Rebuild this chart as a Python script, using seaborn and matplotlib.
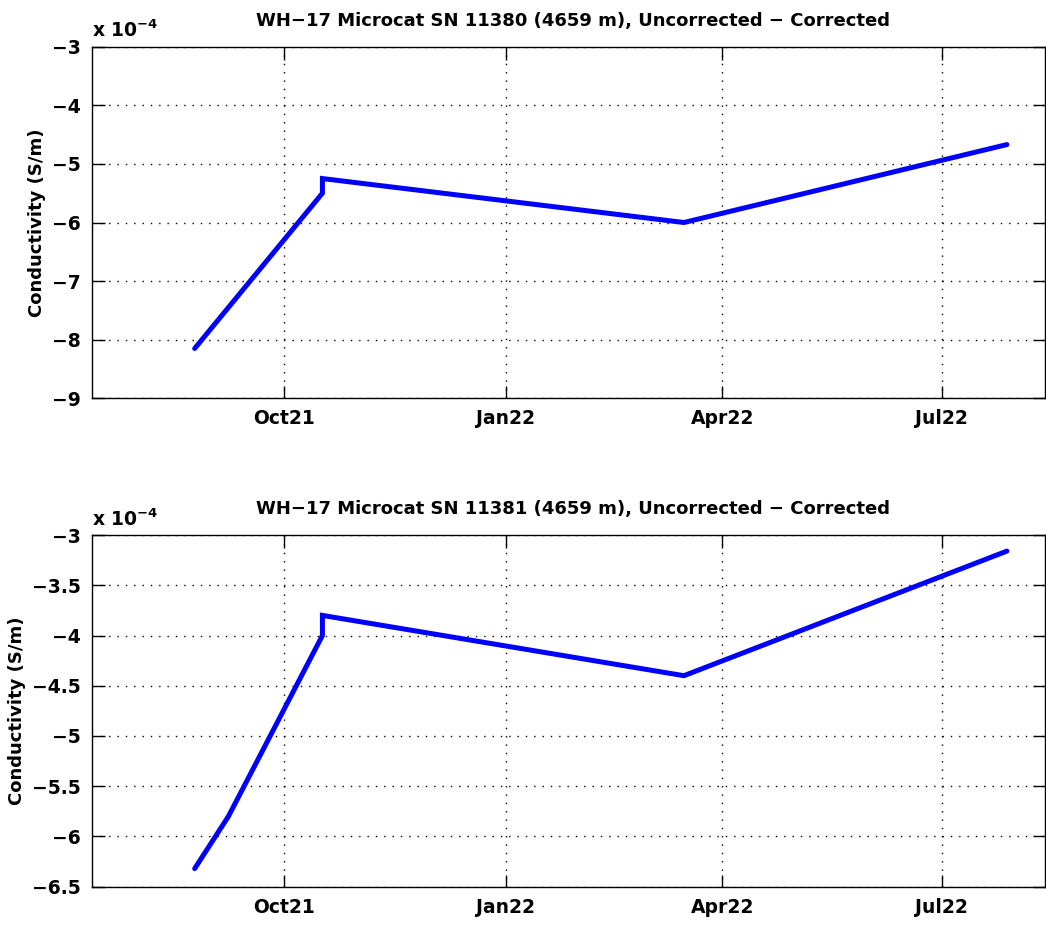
import matplotlib
matplotlib.use("Agg")
import matplotlib.pyplot as plt
import matplotlib.dates as mdates
import seaborn as sns
import pandas as pd

# ---- data (conductivity difference, units of 1e-4 S/m) ----
top_dates = ["2021-08-25", "2021-10-17", "2021-10-17", "2022-03-16", "2022-07-28"]
top_values = [-8.15, -5.50, -5.25, -6.00, -4.67]

bot_dates = ["2021-08-25", "2021-09-08", "2021-10-17", "2021-10-17", "2022-03-16", "2022-07-28"]
bot_values = [-6.32, -5.80, -4.00, -3.80, -4.40, -3.16]

titles = ["WH\u221217 Microcat SN 11380 (4659 m), Uncorrected \u2212 Corrected",
          "WH\u221217 Microcat SN 11381 (4659 m), Uncorrected \u2212 Corrected"]
ylabel = "Conductivity (S/m)"
xtick_dates = ["2021-10-01", "2022-01-01", "2022-04-01", "2022-07-01"]
top_yticks = [-9, -8, -7, -6, -5, -4, -3]
bot_yticks = [-6.5, -6, -5.5, -5, -4.5, -4, -3.5, -3]

sns.set_style("white")
plt.rcParams["font.family"] = ["DejaVu Sans"]
plt.rcParams["font.weight"] = "bold"
plt.rcParams["axes.labelweight"] = "bold"
plt.rcParams["axes.titleweight"] = "bold"
plt.rcParams["mathtext.default"] = "bf"

fig = plt.figure(figsize=(10.46, 9.25), dpi=100)
ax1 = fig.add_axes([0.0877, 0.5694, 0.9115, 0.3801])
ax2 = fig.add_axes([0.0877, 0.0414, 0.9115, 0.3802])

xlim = (pd.Timestamp("2021-07-13 07:00"), pd.Timestamp("2022-08-12 21:00"))

panels = [
    (ax1, top_dates, top_values, titles[0], top_yticks, (-9, -3), ["\u22129", "\u22128", "\u22127", "\u22126", "\u22125", "\u22124", "\u22123"]),
    (ax2, bot_dates, bot_values, titles[1], bot_yticks, (-6.5, -3), ["\u22126.5", "\u22126", "\u22125.5", "\u22125", "\u22124.5", "\u22124", "\u22123.5", "\u22123"]),
]

for ax, dates, vals, title, yt, ylim, ytl in panels:
    df = pd.DataFrame({"date": pd.to_datetime(dates), "val": vals})
    sns.lineplot(data=df, x="date", y="val", sort=False, estimator=None,
                 color="#0000ff", linewidth=3.6, ax=ax, solid_joinstyle="miter")
    ax.set_xlim(*xlim)
    ax.set_ylim(*ylim)
    ax.set_xticks(pd.to_datetime(xtick_dates))
    ax.xaxis.set_major_formatter(mdates.DateFormatter("%b%y"))
    ax.set_yticks(yt)
    ax.set_yticklabels(ytl)
    ax.grid(True, color="black", linestyle=(0, (1, 5)), linewidth=1.0)
    for s in ax.spines.values():
        s.set_color("black")
        s.set_linewidth(1.0)
    ax.tick_params(direction="in", length=9, width=1, colors="black",
                   top=True, right=True, bottom=True, left=True,
                   labelsize=13.5, pad=8)
    for lab in ax.get_xticklabels() + ax.get_yticklabels():
        lab.set_fontweight("bold")
    ax.set_xlabel("")
    ax.set_ylabel(ylabel, fontsize=13, fontweight="bold", labelpad=4, color="black")
    ax.set_title(title, fontsize=13, fontweight="bold", pad=15, x=0.505, color="black")
    ax.text(0.0, 1.015, r"x 10$^{\mathbf{-4}}$", transform=ax.transAxes,
            fontsize=13.5, fontweight="bold", ha="left", va="bottom", color="black")

fig.savefig("out.png", dpi=100)
